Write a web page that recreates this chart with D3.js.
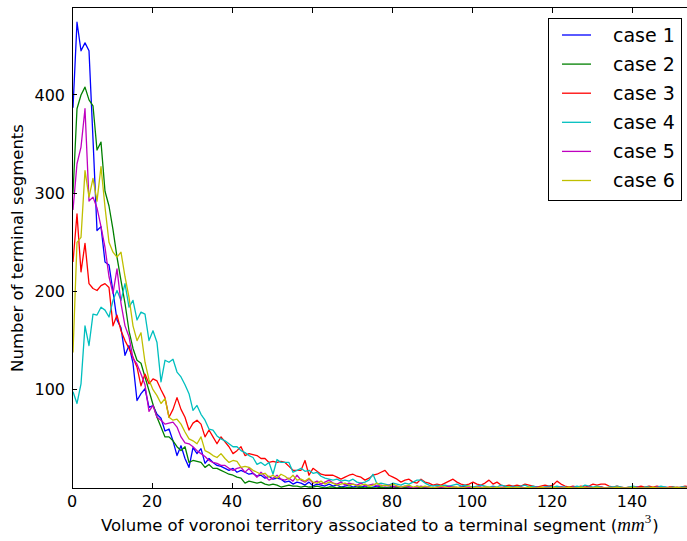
<!DOCTYPE html>
<html><head><meta charset="utf-8">
<script src="https://cdn.jsdelivr.net/npm/d3@7"></script>
<style>body{margin:0;background:#fff} svg{display:block} text{font-family:"DejaVu Sans",sans-serif;fill:#000}</style>
</head><body><svg id="c" width="687" height="541"></svg>
<script>
const caseNames = ["case 1","case 2","case 3","case 4","case 5","case 6"];
const case1 = [387,474,445,453,445,355,262,266,230,227,200,171,163,135,145,127,89,96,101,82,
84,75,71,58,60,48,33,43,30,21,41,35,40,25,30,26,23,22,20,18,
20,16,18,16,14,15,12,13,10,12,9,10,9,6,7,4,6,5,3,6,
2,4,3,2,4,2,3,1,2,3,1,2,1,2,0,1,2,1,0,1,
2,1,0,1,1,0,2,1,0,1,0,1,1,0,0,1,0,1,2,0,
1,0,0,1,0,1,0,0,1,0,0,1,0,0,0,1,0,0,1,0,
0,0,1,0,0,0,1,0,0,0,0,1,0,0,0,0,1,0,0,0,
0,0,1,0,0,0,0,0,1,0,0,0,0,0,0,1,0,0,0,0];
const case2 = [300,386,400,408,395,389,344,352,302,287,263,235,211,188,160,142,130,127,113,99,
85,72,62,52,52,48,42,38,42,26,28,27,26,21,24,20,20,18,16,14,
13,11,10,5,7,6,5,6,4,3,4,3,1,2,3,2,2,1,2,1,
1,2,1,0,1,1,0,1,0,1,0,0,1,0,1,0,0,1,0,0,
1,0,0,0,1,0,0,1,0,0,0,0,1,0,0,0,0,1,0,0,
0,0,0,1,0,0,0,0,0,1,0,0,0,0,0,0,1,0,0,0,
0,0,0,0,1,0,0,0,0,0,0,0,1,0,0,0,0,0,0,0,
0,1,0,0,0,0,0,0,0,0,1,0,0,0,0,0,0,0,0,0];
const case3 = [230,279,220,249,208,203,201,206,208,204,165,176,160,150,142,133,123,104,116,106,
111,109,100,92,72,80,92,80,72,59,66,69,65,52,59,52,45,52,47,42,
35,38,42,33,35,34,33,30,30,26,27,26,27,26,22,18,18,18,28,13,
20,17,14,13,13,13,11,9,11,13,14,12,11,8,10,13,14,16,18,13,
11,9,6,8,9,6,5,9,6,5,3,4,3,5,7,9,6,4,3,4,
6,4,3,5,8,4,6,3,2,3,2,3,2,4,3,2,1,2,3,2,
3,7,4,2,1,2,1,2,1,2,4,3,4,4,2,1,2,1,0,1,
0,1,2,1,2,1,2,1,0,1,1,0,1,2,1,0,1,0,1,0];
const case4 = [98,86,106,165,145,177,176,184,181,174,191,201,191,208,184,191,171,179,177,150,
160,148,108,130,128,131,118,113,105,96,79,84,75,69,60,59,53,50,48,45,
42,42,38,36,33,31,24,26,23,26,14,29,26,26,26,16,18,20,17,18,
15,16,12,10,9,8,9,7,8,7,9,6,5,6,8,14,4,5,4,3,
5,4,3,5,4,6,8,8,5,3,2,3,2,3,2,3,4,2,3,2,
1,2,3,2,1,2,1,3,2,1,2,1,2,3,1,2,1,0,1,2,
1,2,1,1,0,1,2,1,3,2,1,2,1,0,1,1,2,1,0,1,
2,1,0,1,1,0,1,2,1,0,1,0,1,1,0,1,0,1,0,0];
const case5 = [283,330,347,386,292,296,285,266,245,215,198,223,188,165,154,132,126,116,105,78,
84,72,69,65,66,67,62,52,46,45,42,38,35,32,28,26,25,23,23,20,
18,20,21,16,20,15,11,16,12,8,10,13,9,8,10,7,13,8,6,9,
5,7,4,6,8,5,4,6,3,5,4,3,5,2,3,4,2,3,2,3,
1,2,1,2,1,0,1,2,1,1,0,1,0,1,2,1,0,1,0,1,
0,1,1,0,0,1,0,1,0,0,1,0,1,0,0,0,1,0,0,1,
0,0,1,0,0,1,0,0,0,1,0,0,1,0,0,0,1,0,0,0,
0,1,0,0,0,0,1,0,0,0,0,1,0,0,0,0,0,1,0,0];
const case6 = [138,250,255,323,296,315,292,327,286,250,240,235,240,215,194,165,150,158,128,110,
100,94,86,91,72,69,70,65,57,50,48,45,52,38,36,33,31,35,30,26,
28,27,21,22,21,18,16,14,15,11,13,10,14,12,9,13,8,9,7,10,
6,5,7,4,6,5,3,4,5,3,4,2,3,4,2,3,5,2,3,2,
4,2,1,2,3,1,2,1,2,1,0,1,2,1,0,1,1,0,1,2,
0,1,0,1,1,0,1,0,0,1,0,1,0,0,1,0,0,1,0,0,
1,0,0,0,1,0,0,1,0,0,0,1,0,0,0,0,1,0,0,0,
1,0,0,0,0,1,0,0,0,0,0,1,0,0,0,0,0,1,0,0];
const binCenters = d3.range(case1.length).map(i => i + 0.25);
const xTicks = [0,20,40,60,80,100,120,140];
const yTicks = [100,200,300,400];
const colors = ["#0000ff","#008000","#ff0000","#00bfbf","#bf00bf","#bfbf00"];
const series = [case1,case2,case3,case4,case5,case6];

const svg = d3.select("#c");
const L=72, T=7.5, B=488;
const x = d3.scaleLinear().domain([0,160]).range([L, L+640]);
const y = d3.scaleLinear().domain([0,489]).range([B, T]);

svg.append("defs").append("clipPath").attr("id","clip")
  .append("rect").attr("x",L).attr("y",T).attr("width",640).attr("height",B-T);

const line = d3.line().x((d,i)=>x(binCenters[i])).y(d=>y(d));
const g = svg.append("g").attr("clip-path","url(#clip)");
series.forEach((s,k)=>{
  g.append("path").datum(s).attr("d",line).attr("fill","none")
   .attr("stroke",colors[k]).attr("stroke-width",1.3).attr("stroke-linejoin","round");
});

// spines
const sp = svg.append("g").attr("stroke","#000").attr("stroke-width",1).attr("shape-rendering","crispEdges");
sp.append("line").attr("x1",L).attr("x2",L+640).attr("y1",T).attr("y2",T);
sp.append("line").attr("x1",L).attr("x2",L+640).attr("y1",B).attr("y2",B);
sp.append("line").attr("x1",L).attr("x2",L).attr("y1",T).attr("y2",B);

// ticks (inward)
xTicks.forEach(t=>{
  sp.append("line").attr("x1",x(t)).attr("x2",x(t)).attr("y1",B).attr("y2",B-5);
  sp.append("line").attr("x1",x(t)).attr("x2",x(t)).attr("y1",T).attr("y2",T+5);
  svg.append("text").attr("x",x(t)).attr("y",507).attr("text-anchor","middle")
    .attr("font-size",16).text(t);
});
yTicks.forEach(t=>{
  sp.append("line").attr("x1",L).attr("x2",L+5).attr("y1",y(t)).attr("y2",y(t));
  svg.append("text").attr("x",65).attr("y",y(t)).attr("dy","0.36em").attr("text-anchor","end")
    .attr("font-size",16).text(t);
});

// axis labels
svg.append("text").attr("transform","translate(17,248) rotate(-90)")
  .attr("text-anchor","middle").attr("dy","0.36em").attr("font-size",16.5)
  .text("Number of terminal segments");
const xl = svg.append("text").attr("x",101).attr("y",531).attr("font-size",16.5);
xl.append("tspan").text("Volume of voronoi territory associated to a terminal segment (");
xl.append("tspan").attr("font-family","Liberation Serif, serif").attr("font-style","italic").attr("font-size",19).text("mm");
xl.append("tspan").attr("font-family","Liberation Serif, serif").attr("font-size",13).attr("dy",-8).text("3");
xl.append("tspan").attr("dy",8).attr("dx",1).text(")");

// legend
const lg = svg.append("g");
lg.append("rect").attr("x",548.5).attr("y",18.5).attr("width",133).attr("height",182)
  .attr("fill","#fff").attr("stroke","#000").attr("stroke-width",1);
caseNames.forEach((n,k)=>{
  const yy = 35 + 29.1*k;
  lg.append("line").attr("x1",562).attr("x2",591).attr("y1",yy).attr("y2",yy)
    .attr("stroke",colors[k]).attr("stroke-width",1.3);
  lg.append("text").attr("x",613).attr("y",yy).attr("dy","0.36em").attr("font-size",19).text(n);
});
</script></body></html>
